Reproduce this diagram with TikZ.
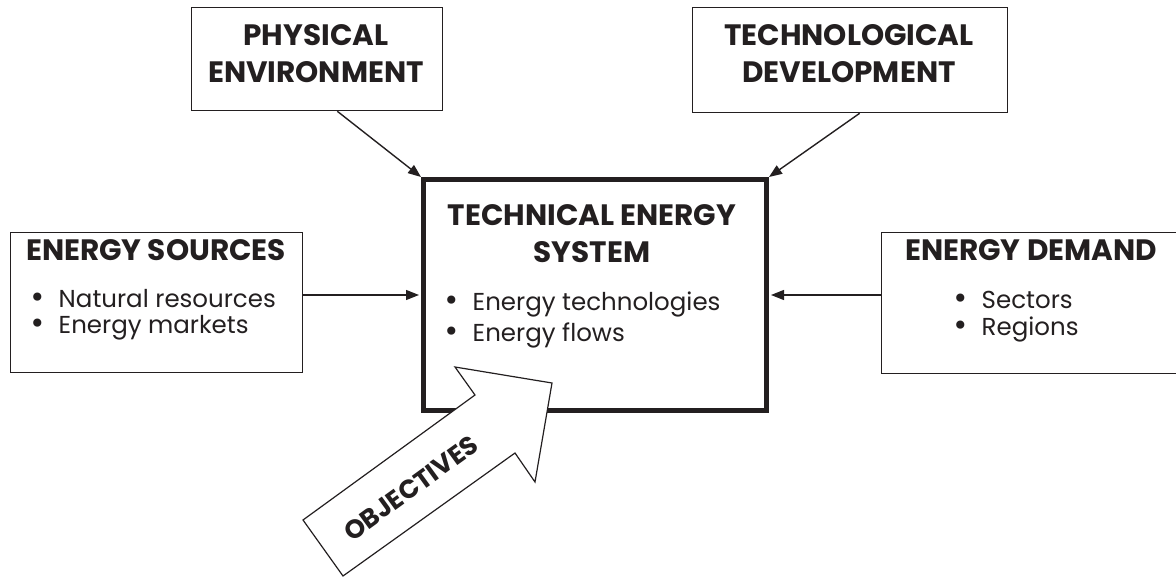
\documentclass[tikz,border=0pt]{standalone}
\usepackage{fontspec}
\setmainfont{Poppins}
\newfontfamily\dvfont{DejaVu Sans}
\usetikzlibrary{arrows.meta,calc}
\definecolor{ink}{HTML}{231F20}
\tikzset{
  box/.style={draw=ink, line width=1.3pt, fill=white, inner sep=0pt, anchor=north west},
  bigbox/.style={draw=ink, line width=5pt, inner sep=0pt, anchor=north west},
  title/.style={font=\bfseries\fontsize{29.5}{37}\selectfont, text=ink, align=center},
  item/.style={font=\fontsize{24.5}{30}\selectfont, text=ink, anchor=west, inner sep=0pt},
  conn/.style={draw=ink, line width=1.4pt, -{Triangle[length=13pt,width=10pt]}},
}
\newcommand{\bul}{{\dvfont\fontsize{28}{28}\selectfont\raisebox{0pt}{•}}\hspace{13pt}}
\begin{document}
\begin{tikzpicture}[x=1pt,y=-1pt]
\useasboundingbox (0,0) rectangle (1176,577);
\begin{scope}
\clip (0,0) rectangle (1176,577);
% boxes
\node[box, minimum width=251pt, minimum height=103pt] (phys) at (191,7) {};
\node[box, minimum width=315pt, minimum height=105pt] (tech) at (692,7) {};
\node[box, minimum width=292pt, minimum height=140pt] (src) at (10,232) {};
\node[box, minimum width=320pt, minimum height=141pt] (dem) at (881,232) {};
\node[bigbox, minimum width=343pt, minimum height=231pt] (tes) at (421,177) {};
\end{scope}
% titles
\node[title] (tphys) at (316,54) {PHYSICAL\\ENVIRONMENT};
\node[title] (ttech) at (849,54) {TECHNOLOGICAL\\DEVELOPMENT};
\node[title] (ttes) at (592,234) {TECHNICAL ENERGY\\SYSTEM};
\node[title] (tsrc) at (156,250) {ENERGY SOURCES};
\node[title] (tdem) at (1031,250) {ENERGY DEMAND};
% items
\node[item] (s1) at (29,299) {\bul Natural resources};
\node[item] (s2) at (29,328) {\bul Energy markets};
\node[item] (c1) at (443,304) {\bul Energy technologies};
\node[item] (c2) at (443,335) {\bul Energy flows};
\node[item] (d1) at (952,300) {\bul Sectors};
\node[item] (d2) at (952,329) {\bul Regions};
% connectors
\draw[conn] ($(phys.south west)!0.58!(phys.south east)$) -- (tes.north west);
\draw[conn] ($(tech.south west)!0.53!(tech.south east)$) -- (tes.north east);
\draw[conn] (src.east |- tes.west) -- ([xshift=-2pt]tes.west);
\draw[conn] (dem.west |- tes.east) -- ([xshift=2pt]tes.east);
% objectives block arrow
\coordinate (o1) at (303,520);
\coordinate (o2) at (475,395);
\coordinate (o3) at (455,367);
\coordinate (o4) at (552,383);
\coordinate (o5) at (535,482);
\coordinate (o6) at (515,453);
\coordinate (o7) at (343,576);
\draw[ink, line width=1.2pt, fill=white, line join=miter] (o1) -- (o2) -- (o3) -- (o4) -- (o5) -- (o6) -- (o7) -- cycle;
\node[title, font=\bfseries\fontsize{26}{30}\selectfont, rotate=36, inner sep=0pt] (obj) at (411,488) {OBJECTIVES};
\end{tikzpicture}
\end{document}
